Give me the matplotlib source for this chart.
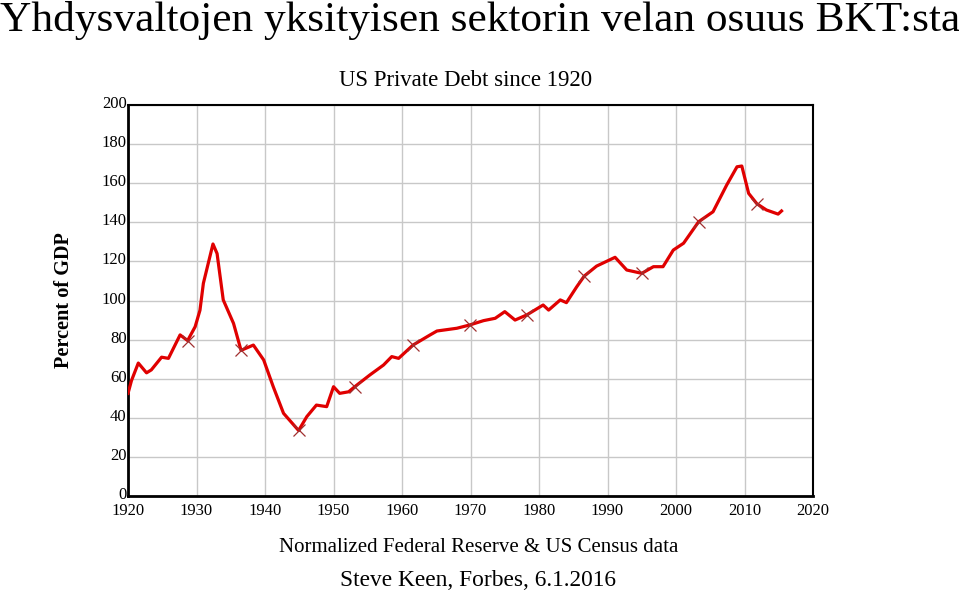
import numpy as np
import matplotlib
matplotlib.use("Agg")
import matplotlib.pyplot as plt
import matplotlib.transforms as mtransforms

plt.rcParams['font.family'] = ['Liberation Serif', 'DejaVu Serif']

# values (year, % of GDP)
years = [1920.0, 1920.5, 1921.5, 1922.7, 1923.4, 1924.9, 1925.9, 1927.6, 1928.7,
         1929.8, 1930.5, 1931.0, 1932.4, 1933.0, 1933.9, 1935.4, 1936.5, 1938.3,
         1939.8, 1941.2, 1942.7, 1944.9, 1946.1, 1947.5, 1949.0, 1950.0, 1950.9,
         1952.2, 1953.1, 1955.3, 1957.3, 1958.5, 1959.5, 1961.6, 1964.1, 1965.1,
         1968.0, 1969.9, 1971.9, 1973.6, 1975.0, 1976.5, 1978.2, 1980.6, 1981.4,
         1983.1, 1984.0, 1985.5, 1986.6, 1988.4, 1990.8, 1991.1, 1992.8, 1995.0,
         1996.7, 1998.1, 1999.6, 2001.1, 2003.3, 2005.4, 2007.4, 2008.9, 2009.6,
         2010.6, 2011.8, 2013.2, 2014.9, 2015.4]
debt = [52.5, 59.0, 68.0, 63.0, 64.5, 71.0, 70.4, 82.4, 79.5,
        86.6, 95.0, 108.8, 128.9, 124.0, 100.3, 88.3, 74.5, 77.2,
        69.6, 55.9, 42.3, 33.5, 40.6, 46.5, 45.7, 55.9, 52.5,
        53.3, 55.9, 61.9, 67.0, 71.3, 70.4, 77.2, 82.4, 84.4,
        85.8, 87.5, 89.7, 90.9, 94.3, 90.0, 92.6, 97.7, 95.1,
        100.3, 98.9, 107.0, 112.5, 117.6, 121.6, 122.1, 115.6, 113.9,
        117.3, 117.3, 125.8, 129.3, 140.3, 145.4, 159.1, 168.4, 168.8,
        154.8, 149.5, 146.3, 144.2, 145.8]
marker_years = [1928.7, 1936.5, 1944.9, 1953.1, 1961.6, 1969.9, 1978.2,
                1986.6, 1995.0, 2003.3, 2011.8]

marks = [years.index(y) for y in marker_years]

fig = plt.figure(figsize=(9.59, 5.93), dpi=100)
ax = fig.add_axes([0.1335, 0.1636, 0.7143, 0.6593])

ax.plot(years, debt, color='#e00000', lw=2.3, zorder=3)
ax.plot(np.array(years)[marks], np.array(debt)[marks], ls='none', marker='x',
        ms=9, mew=0.9, color='#a03030', zorder=4)

ax.set_xlim(1920, 2020)
ax.set_ylim(0, 200)
ax.set_xticks(range(1920, 2021, 10))
ax.set_yticks(range(0, 201, 20))
ax.grid(True, color='#c8c8c8', lw=1)
ax.set_axisbelow(True)
ax.tick_params(length=0, labelsize=12)
ax.tick_params(axis='x', pad=5)
ax.tick_params(axis='y', pad=1)
# nudge y labels up a little so "0" clears "1920"
up = mtransforms.ScaledTranslation(0, 3 / 100, fig.dpi_scale_trans)
for lab in ax.get_yticklabels():
    lab.set_transform(lab.get_transform() + up)
for s in ax.spines.values():
    s.set_color('black')
    s.set_linewidth(1.5)
ax.spines['left'].set_linewidth(2)
ax.spines['bottom'].set_linewidth(2)

ax.set_ylabel('Percent of GDP', fontsize=14.6, fontweight='bold', labelpad=20)

fig.text(0.0, 0.966, 'Yhdysvaltojen yksityisen sektorin velan osuus BKT:sta',
         fontsize=31.2, ha='left', va='center')
fig.text(0.485, 0.865, 'US Private Debt since 1920', fontsize=16.4,
         ha='center', va='center')
fig.text(0.499, 0.076, 'Normalized Federal Reserve & US Census data',
         fontsize=15, ha='center', va='center')
fig.text(0.498, 0.021, 'Steve Keen, Forbes, 6.1.2016', fontsize=16.8,
         ha='center', va='center')

fig.savefig('out.png', dpi=100)
